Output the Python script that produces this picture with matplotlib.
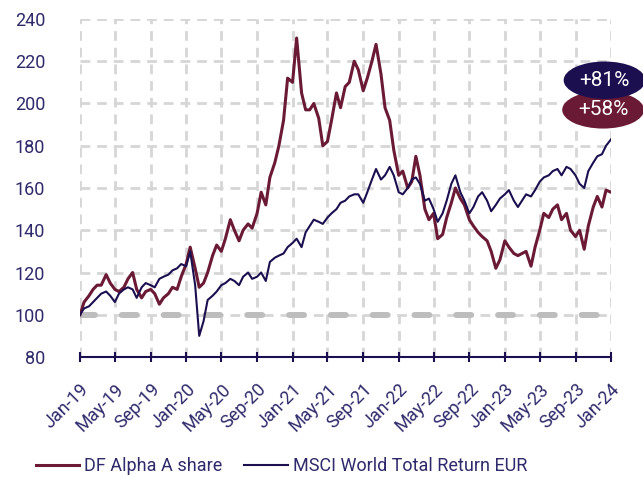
import pandas as pd
import matplotlib
matplotlib.use('Agg')
import matplotlib.pyplot as plt
import matplotlib.dates as mdates

# Colores
MAROON = '#6b1a35'
NAVY = '#1c0f50'
TEXT = '#2e2a6b'
GRID = '#d6d6d6'

# Fechas quincenales, ene-2019 a ene-2024
dates = pd.date_range('2019-01-01', '2024-01-01', freq='SMS')

# Valores (base 100)
df_alpha = [100, 106, 109, 112, 114, 114, 119, 115, 112, 111,
            113, 117, 120, 112, 108, 111, 112, 110, 105, 108,
            110, 113, 112, 118, 124, 132, 122, 113, 115, 120,
            128, 133, 130, 136, 145, 140, 135, 140, 143, 141,
            148, 158, 152, 165, 172, 180, 192, 212, 210, 231,
            205, 197, 197, 200, 193, 180, 182, 192, 205, 198,
            208, 210, 220, 216, 206, 212, 220, 228, 214, 198,
            192, 178, 166, 168, 160, 163, 175, 166, 150, 145,
            148, 136, 138, 146, 153, 160, 155, 152, 145, 142,
            139, 137, 135, 130, 122, 126, 135, 132, 129, 128,
            129, 130, 123, 132, 140, 148, 146, 150, 152, 145,
            148, 140, 137, 140, 131, 142, 151, 156, 151, 159,
            158]

msci_world = [100, 103, 104, 106, 108, 110, 111, 109, 106, 110,
              112, 113, 112, 108, 113, 115, 114, 113, 117, 118,
              119, 121, 122, 124, 123, 130, 114, 90, 97, 107,
              109, 111, 114, 115, 117, 116, 114, 118, 120, 117,
              118, 120, 116, 125, 127, 128, 129, 132, 134, 136,
              132, 139, 142, 145, 144, 143, 146, 148, 150, 153,
              154, 156, 157, 157, 153, 158, 164, 169, 164, 166,
              170, 166, 158, 157, 160, 164, 165, 162, 154, 155,
              150, 144, 148, 154, 162, 166, 158, 154, 148, 151,
              156, 158, 154, 149, 152, 155, 157, 159, 154, 151,
              154, 157, 156, 159, 163, 165, 166, 168, 169, 166,
              170, 169, 166, 162, 160, 168, 172, 175, 176, 180,
              183]

tick_dates = pd.date_range('2019-01-01', '2024-01-01', freq='4MS')
y_ticks = [80, 100, 120, 140, 160, 180, 200, 220, 240]

label_alpha = 'DF Alpha A share'
label_msci = 'MSCI World Total Return EUR'
badge_msci = '+81%'
badge_alpha = '+58%'

plt.rcParams['font.family'] = ['Roboto', 'DejaVu Sans']

fig = plt.figure(figsize=(6.43, 4.78), dpi=100)
ax = fig.add_axes([0.1244, 0.2531, 0.8258, 0.7072])

# Rejilla discontinua
for d in tick_dates:
    ax.axvline(d, color=GRID, lw=2, ls=(0, (3.5, 2.5)), zorder=0)
for y in y_ticks[1:]:
    ax.axhline(y, color=GRID, lw=2, ls=(0, (3.5, 2.5)), zorder=0)

# Linea base 100
ax.plot([dates[0], dates[-1]], [100, 100], color='#bdbdbd', lw=4.3,
        ls=(0, (2.5, 4.5)), dash_capstyle='round', zorder=1)

ax.plot(dates, df_alpha, color=MAROON, lw=2.2, label=label_alpha, zorder=3)
ax.plot(dates, msci_world, color=NAVY, lw=1.5, label=label_msci, zorder=4)

ax.set_xlim(dates[0], dates[-1])
ax.set_ylim(80, 240)
ax.set_yticks(y_ticks)
ax.set_xticks(tick_dates)
ax.xaxis.set_major_formatter(mdates.DateFormatter('%b-%y'))

for s in ['top', 'right', 'left']:
    ax.spines[s].set_visible(False)
ax.spines['bottom'].set_color(NAVY)
ax.spines['bottom'].set_linewidth(1.5)

ax.tick_params(axis='y', length=0, labelsize=13, colors=TEXT, pad=25)
ax.tick_params(axis='x', direction='inout', length=7, width=1.5, color=NAVY,
               labelsize=13, labelcolor=TEXT, pad=13)
plt.setp(ax.get_xticklabels(), rotation=45, ha='right', rotation_mode='anchor')

# Etiquetas elipticas
ax.text(pd.Timestamp('2023-12-10'), 211, badge_msci, color='white', fontsize=15,
        ha='center', va='center', clip_on=False, zorder=6,
        bbox=dict(boxstyle='ellipse,pad=0.18', fc=NAVY, ec='none'))
ax.text(pd.Timestamp('2023-12-05'), 197, badge_alpha, color='white', fontsize=15,
        ha='center', va='center', clip_on=False, zorder=5,
        bbox=dict(boxstyle='ellipse,pad=0.18', fc=MAROON, ec='none'))

fig.legend(loc='center left', bbox_to_anchor=(0.03, 0.025), ncol=2, frameon=False,
           fontsize=13, labelcolor=TEXT, handlelength=2.4, columnspacing=1.2,
           handletextpad=0.3)

fig.savefig('out.png', dpi=100)
